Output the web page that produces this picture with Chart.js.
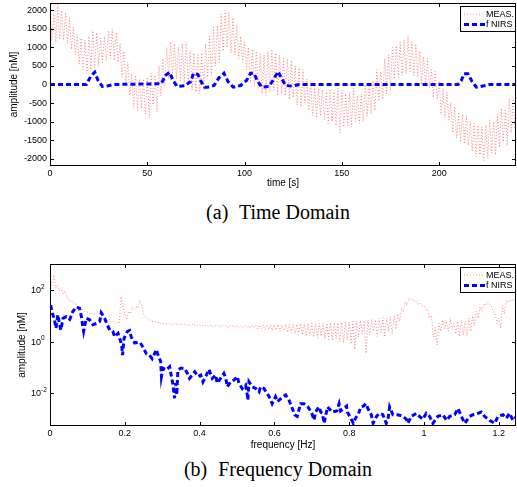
<!DOCTYPE html>
<html>
<head>
<meta charset="utf-8">
<script src="https://cdn.jsdelivr.net/npm/chart.js@4.4.0/dist/chart.umd.min.js"></script>
<style>
  body { margin: 0; background: #fff; width: 517px; height: 487px; position: relative; overflow: hidden; }
  canvas { position: absolute; left: 0; }
  #timeChart { top: 0; }
  #freqChart { top: 250px; }
  .caption { position: absolute; left: 0; width: 556px; text-align: center; line-height: 20px;
             font-family: "Liberation Serif", "Times New Roman", serif; font-size: 20px; color: #000; }
  .caption span { margin-right: 6px; }
</style>
</head>
<body>
<canvas id="timeChart" width="517" height="190"></canvas>
<div class="caption" style="top:202px"><span>(a)</span> Time Domain</div>
<canvas id="freqChart" width="517" height="202"></canvas>
<div class="caption" style="top:459px"><span>(b)</span> Frequency Domain</div>
<script>
// (a) time domain
const timeTicks = [0, 50, 100, 150, 200];
const ampTicks = [-2000, -1500, -1000, -500, 0, 500, 1000, 1500, 2000];
// MEAS. upper peaks (t = 0, 2, 4 ... s) and lower troughs (t = 1, 3, 5 ... s)
const measTimeHi = [2000, 1900, 2150, 2000, 1950, 1800, 1550, 1350, 1250, 1200,
  1300, 1450, 1400, 1250, 1300, 1450, 1500, 1400, 1100, 900,
  600, 300, 250, 150, 150, 200, 300, 250, 500, 700,
  1000, 1150, 1100, 1000, 1100, 1150, 900, 850, 800, 850,
  1100, 1300, 1550, 1600, 1900, 2000, 1950, 1800, 1600, 1300,
  1150, 1000, 950, 900, 850, 800, 900, 950, 850, 800,
  700, 700, 650, 500, 450, 400, 150, 50, -50, -100,
  -150, -200, -150, -200, -100, -150, -250, -200, -100, -300,
  -250, 0, -50, 100, 400, 350, 700, 800, 1000, 1050,
  1150, 1200, 1300, 1150, 1100, 900, 750, 700, 400, 350,
  100, -100, -200, -500, -600, -750, -800, -850, -1000, -1050,
  -1100, -1150, -1100, -950, -1000, -800, -650, -700, -400, -350];
const measTimeLo = [1200, 1150, 1250, 1200, 1100, 950, 800, 550, 400, 300,
  400, 450, 500, 600, 650, 700, 650, 600, 200, 0,
  -300, -600, -700, -650, -800, -900, -550, -750, -300, -50,
  150, 200, 150, 100, 50, 0, -150, -200, -250, -150,
  200, 250, 500, 600, 900, 1000, 850, 800, 700, 600,
  400, 50, -50, -100, -250, -300, -200, -150, -300, -250,
  -300, -400, -350, -550, -600, -500, -700, -850, -900, -850,
  -950, -1050, -1000, -1100, -1300, -1150, -1100, -1150, -1000, -1050,
  -1000, -850, -800, -700, -450, -400, -250, -150, 150, 200,
  250, 300, 350, 250, 200, 0, -50, -100, -350, -400,
  -800, -900, -950, -1300, -1450, -1550, -1600, -1650, -1800, -1950,
  -1900, -2050, -2000, -1850, -1900, -1700, -1550, -1650, -1300, -1250];
// f NIRS estimate
const fnirsTimeT = [0, 18.7, 20.9, 23.0, 24.7, 26.9, 29.8, 33, 57.2, 59.3, 61.5, 63.2, 65.4, 69.2,
  72.3, 73.8, 76.0, 77.8, 79.5, 81, 84.3, 86.8, 89.4, 91.5, 94.2, 98.0, 101.0, 103.1, 104.8,
  106.5, 108.8, 112.5, 115.1, 117.2, 118.9, 121.1, 124.5, 128, 209.7, 211.4, 212.7, 214.8,
  216.9, 219.1, 223, 226, 240];
const fnirsTimeV = [0, 0, 216, 333, 108, -54, -36, 0, 20, 243, 333, 108, -54, -36,
  80, 306, 270, 63, -72, -72, -27, 180, 306, 80, -72, -27, 108, 306, 306,
  108, -72, -54, 153, 351, 180, -27, -45, 0, 0, 108, 288, 288,
  80, -72, -36, 0, 0];

// (b) frequency domain
const freqTicks = [0, 0.2, 0.4, 0.6, 0.8, 1, 1.2];
const logTicks = [1e-2, 1, 1e2];
// MEAS. spectrum, peaks at f = 0, 0.01 ... Hz and troughs at f = 0.005, 0.015 ... Hz
const measFreqHi = [250, 380, 150, 120, 90, 45, 35, 30, 22, 16,
  14, 13, 12, 9, 8, 7.5, 7, 6, 6, 55,
  12, 15, 22, 22, 40, 12, 8, 6.5, 6, 5.5,
  5.2, 5, 5.2, 5, 4.8, 5, 4.8, 4.6, 4.7, 4.5,
  4.5, 4.4, 4.3, 4.4, 4.2, 4.3, 4.2, 4.2, 4.1, 4.2,
  4.2, 4.1, 4.2, 4.1, 4.2, 4.3, 4.3, 4.4, 4.5, 4.4,
  4.5, 4.6, 4.5, 4.7, 4.6, 4.8, 4.7, 5.0, 4.8, 5.0,
  5.1, 5.0, 5.2, 5.3, 5.2, 5.4, 5.5, 5.4, 5.6, 5.8,
  5.7, 6.0, 6.2, 6.5, 6.5, 7.0, 7.5, 7.0, 8.0, 8.5,
  8.0, 9.0, 10, 12, 20, 35, 48, 45, 35, 30,
  25, 18, 10, 3.5, 5, 7, 6, 8, 5, 6,
  7, 6, 8, 10, 15, 22, 30, 35, 25, 12,
  8, 25, 40, 42, 45];
const measFreqLo = [150, 120, 90, 70, 50, 35, 28, 22, 18, 14,
  12, 11, 10, 8, 7, 6.5, 5.5, 5, 5, 20,
  7, 12, 18, 20, 25, 9, 7, 6, 5.5, 5,
  4.8, 4.6, 4.5, 4.6, 4.4, 4.5, 4.3, 4.2, 4.2, 4.1,
  4, 4, 3.9, 3.8, 3.9, 3.7, 3.8, 3.6, 3.7, 3.5,
  3.6, 3.4, 3.5, 3.3, 3.4, 3.1, 3.2, 2.9, 3.0, 2.7,
  2.8, 2.5, 2.6, 2.3, 2.2, 2.0, 1.9, 1.8, 1.6, 1.7,
  1.5, 1.4, 1.6, 1.3, 1.2, 1.1, 1.3, 1.0, 0.9, 1.2,
  0.8, 0.5, 1.5, 2.0, 0.35, 1.8, 2.5, 1.6, 2.2, 1.5,
  2.5, 2.0, 3.0, 6, 14, 25, 40, 35, 28, 24,
  18, 8, 1.5, 0.75, 2.5, 3, 2.5, 3, 2, 1.6,
  1.8, 1.6, 2.5, 4, 8, 15, 25, 28, 15, 5,
  3.3, 12, 32, 35, 38];
// f NIRS spectrum
const fnirsFreqF = [0.002, 0.005, 0.012, 0.016, 0.021, 0.025, 0.029, 0.035, 0.044, 0.053,
  0.061, 0.070, 0.079, 0.084, 0.087, 0.090, 0.097, 0.106, 0.115, 0.127,
  0.133, 0.137, 0.146, 0.153, 0.160, 0.168, 0.173, 0.182, 0.189, 0.192,
  0.194, 0.198, 0.207, 0.213, 0.217, 0.226, 0.240, 0.249, 0.258, 0.266,
  0.273, 0.280, 0.284, 0.289, 0.296, 0.298, 0.302, 0.311, 0.320, 0.324,
  0.328, 0.331, 0.333, 0.336, 0.339, 0.342, 0.349, 0.360, 0.367, 0.373,
  0.380, 0.387, 0.396, 0.403, 0.409, 0.418, 0.425, 0.434, 0.443, 0.447,
  0.456, 0.465, 0.470, 0.474, 0.483, 0.492, 0.501, 0.505, 0.514, 0.523,
  0.527, 0.529, 0.532, 0.541, 0.550, 0.559, 0.563, 0.572, 0.586, 0.590,
  0.594, 0.603, 0.608, 0.621, 0.630, 0.639, 0.648, 0.654, 0.661, 0.670,
  0.679, 0.690, 0.700, 0.706, 0.710, 0.719, 0.724, 0.728, 0.733, 0.742,
  0.755, 0.767, 0.773, 0.777, 0.786, 0.793, 0.795, 0.804, 0.811, 0.817,
  0.824, 0.831, 0.838, 0.845, 0.850, 0.859, 0.864, 0.873, 0.881, 0.890,
  0.899, 0.904, 0.908, 0.917, 0.930, 0.944, 0.953, 0.957, 0.966, 0.980,
  0.988, 0.997, 1.006, 1.015, 1.024, 1.037, 1.051, 1.060, 1.069, 1.082,
  1.091, 1.100, 1.109, 1.122, 1.131, 1.144, 1.153, 1.162, 1.176, 1.189,
  1.198, 1.211, 1.220, 1.229, 1.238, 1.247];
const fnirsFreqA = [26, 14.5, 7, 3.3, 11, 5, 2.8, 8, 9.3, 7.3,
  14.5, 22, 19.5, 9.3, 4.5, 2.5, 8, 7, 4.5, 5.2,
  6, 13, 8, 4.5, 2.8, 2.5, 1.55, 2.1, 1.0, 0.65,
  0.3, 1.35, 2.5, 2.7, 1.55, 0.9, 0.95, 0.6, 0.33, 0.3,
  0.22, 0.35, 0.5, 0.3, 0.17, 0.045, 0.093, 0.08, 0.107, 0.051,
  0.025, 0.0115, 0.0065, 0.025, 0.0087, 0.08, 0.093, 0.093, 0.06, 0.038,
  0.051, 0.069, 0.045, 0.051, 0.028, 0.051, 0.085, 0.038, 0.051, 0.025,
  0.038, 0.059, 0.038, 0.018, 0.028, 0.033, 0.045, 0.025, 0.0155, 0.021,
  0.01, 0.0055, 0.028, 0.018, 0.0155, 0.0115, 0.018, 0.0155, 0.0074, 0.0055,
  0.004, 0.0074, 0.0048, 0.007, 0.0087, 0.0055, 0.0026, 0.0015, 0.0013, 0.004,
  0.004, 0.003, 0.0017, 0.00093, 0.0019, 0.003, 0.0019, 0.0017, 0.0007, 0.003,
  0.0019, 0.0021, 0.004, 0.0021, 0.0026, 0.0032, 0.0019, 0.0011, 0.0007, 0.0011,
  0.0015, 0.003, 0.0032, 0.004, 0.0026, 0.0015, 0.0007, 0.0013, 0.0017, 0.0015,
  0.0007, 0.0011, 0.003, 0.0015, 0.0015, 0.0013, 0.0010, 0.0007, 0.0013, 0.0017,
  0.0013, 0.0010, 0.0017, 0.0013, 0.0007, 0.0013, 0.0015, 0.0009, 0.0013, 0.0015,
  0.0026, 0.0013, 0.0007, 0.0013, 0.0015, 0.0017, 0.0019, 0.0013, 0.0009, 0.0007,
  0.0013, 0.0015, 0.0011, 0.0017, 0.0009, 0.0013];

const sans = '"Liberation Sans", Arial, sans-serif';
const measColor = 'rgba(255, 60, 60, 0.6)';
const fnirsColor = '#0000ff';

// zigzag of peaks and troughs on a regular grid
function zigzag(hi, lo, step) {
  const pts = [];
  for (let i = 0; i < hi.length; i++) {
    pts.push({x: i * step, y: hi[i]});
    pts.push({x: i * step + step / 2, y: lo[i]});
  }
  return pts;
}
function pairs(xs, ys) {
  return xs.map((x, i) => ({x: x, y: ys[i]}));
}

// MATLAB-like box, inward ticks, legend and 10^n labels
const matlabBox = {
  id: 'matlabBox',
  afterDraw(chart, args, opts) {
    const {ctx, chartArea: a} = chart;
    const sx = chart.scales.x, sy = chart.scales.y;
    ctx.save();
    ctx.strokeStyle = '#000';
    ctx.lineWidth = 1;
    ctx.setLineDash([]);
    ctx.beginPath();
    sx.ticks.forEach(t => {
      const px = Math.round(sx.getPixelForValue(t.value)) + 0.5;
      ctx.moveTo(px, a.top); ctx.lineTo(px, a.top + 4);
      ctx.moveTo(px, a.bottom); ctx.lineTo(px, a.bottom - 4);
    });
    sy.ticks.forEach(t => {
      const py = Math.round(sy.getPixelForValue(t.value)) + 0.5;
      ctx.moveTo(a.left, py); ctx.lineTo(a.left + 4, py);
      ctx.moveTo(a.right, py); ctx.lineTo(a.right - 4, py);
    });
    ctx.stroke();
    ctx.strokeRect(a.left + 0.5, a.top + 0.5, a.width - 1, a.height - 1);

    ctx.fillStyle = '#000';
    if (opts.powers) {
      sy.ticks.forEach(t => {
        const py = sy.getPixelForValue(t.value);
        ctx.textBaseline = 'middle';
        ctx.font = '9px ' + sans;
        ctx.textAlign = 'right';
        ctx.fillText('10', 41, py + 0.5);
        ctx.font = '6.5px ' + sans;
        ctx.textAlign = 'left';
        ctx.fillText(String(Math.round(Math.log10(t.value))), 41, py - 3);
      });
    }

    // legend in the upper right corner
    const bx = 460, bw = a.right - bx, by = a.top + 3, bh = 26;
    ctx.fillStyle = '#fff';
    ctx.fillRect(bx, by, bw, bh);
    ctx.strokeRect(bx + 0.5, by + 0.5, bw - 1, bh - 1);
    chart.data.datasets.forEach((ds, i) => {
      const ly = by + 8 + i * 10.5;
      ctx.strokeStyle = ds.borderColor;
      ctx.lineWidth = ds.borderWidth;
      ctx.setLineDash(ds.borderDash);
      ctx.beginPath();
      ctx.moveTo(bx + 4, ly); ctx.lineTo(bx + 25, ly);
      ctx.stroke();
      ctx.setLineDash([]);
      ctx.fillStyle = '#000';
      ctx.font = '9px ' + sans;
      ctx.textAlign = 'left';
      ctx.textBaseline = 'middle';
      ctx.fillText(ds.label, bx + 26, ly + 0.5);
    });
    ctx.restore();
  }
};

function axisX(ticks, min, max, title, height, fmt) {
  return {
    type: 'linear', min: min, max: max,
    grid: {display: false, drawTicks: false}, border: {display: false},
    afterBuildTicks: s => { s.ticks = ticks.map(v => ({value: v})); },
    afterFit: s => { s.height = height; s.paddingLeft = 0; s.paddingRight = 0; },
    ticks: {padding: 2, autoSkip: false, maxRotation: 0, color: '#000', font: {family: sans, size: 9}, callback: fmt},
    title: {display: true, text: title, color: '#000', font: {family: sans, size: 10}, padding: 0}
  };
}

new Chart(document.getElementById('timeChart'), {
  type: 'line',
  data: {
    datasets: [
      {label: 'MEAS.', data: zigzag(measTimeHi, measTimeLo, 2), borderColor: measColor,
       borderWidth: 1, borderDash: [1, 2], pointRadius: 0, order: 2},
      {label: 'f NIRS', data: pairs(fnirsTimeT, fnirsTimeV), borderColor: fnirsColor,
       borderWidth: 3, borderDash: [5, 3], pointRadius: 0, order: 1}
    ]
  },
  options: {
    responsive: false, animation: false,
    layout: {padding: {top: 3, right: 1, bottom: 1, left: 0}},
    plugins: {legend: {display: false}, tooltip: {enabled: false}, matlabBox: {powers: false}},
    scales: {
      x: axisX(timeTicks, 0, 239.5, 'time [s]', 23, v => String(v)),
      y: {
        min: -2200, max: 2200,
        grid: {display: false, drawTicks: false}, border: {display: false},
        afterBuildTicks: s => { s.ticks = ampTicks.map(v => ({value: v})); },
        afterFit: s => { s.width = 50; s.paddingTop = 0; s.paddingBottom = 0; },
        ticks: {padding: 3, autoSkip: false, color: '#000', font: {family: sans, size: 9}, callback: v => String(v)},
        title: {display: true, text: 'amplitude [nM]', color: '#000', font: {family: sans, size: 10}, padding: {top: 8, bottom: 0}}
      }
    }
  },
  plugins: [matlabBox]
});

new Chart(document.getElementById('freqChart'), {
  type: 'line',
  data: {
    datasets: [
      {label: 'MEAS.', data: zigzag(measFreqHi, measFreqLo, 0.01), borderColor: measColor,
       borderWidth: 1, borderDash: [1, 2], pointRadius: 0, order: 2},
      {label: 'f NIRS', data: pairs(fnirsFreqF, fnirsFreqA), borderColor: fnirsColor,
       borderWidth: 3, borderDash: [5, 3], pointRadius: 0, order: 1}
    ]
  },
  options: {
    responsive: false, animation: false,
    layout: {padding: {top: 14, right: 1, bottom: 1, left: 0}},
    plugins: {legend: {display: false}, tooltip: {enabled: false}, matlabBox: {powers: true}},
    scales: {
      x: axisX(freqTicks, 0, 1.246, 'frequency [Hz]', 25, v => String(Math.round(v * 10) / 10)),
      y: {
        type: 'logarithmic', min: 5.5e-4, max: 1000,
        grid: {display: false, drawTicks: false}, border: {display: false},
        afterBuildTicks: s => { s.ticks = logTicks.map(v => ({value: v})); },
        afterFit: s => { s.width = 50; s.paddingTop = 0; s.paddingBottom = 0; },
        ticks: {display: false},
        title: {display: true, text: 'amplitude [nM]', color: '#000', font: {family: sans, size: 10}, padding: {top: 16, bottom: 0}}
      }
    }
  },
  plugins: [matlabBox]
});
</script>
</body>
</html>
